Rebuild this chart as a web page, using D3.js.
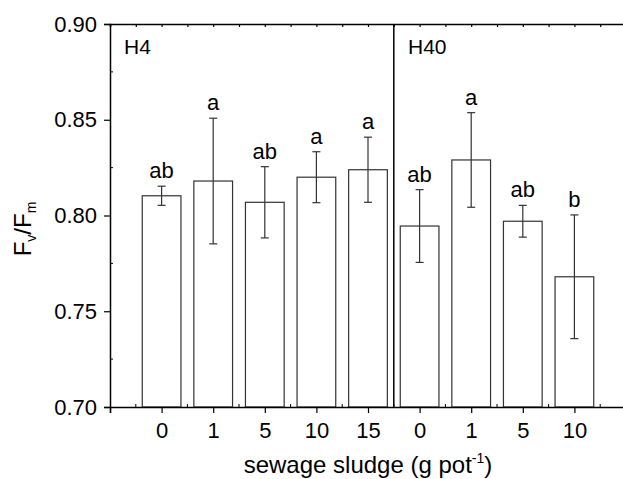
<!DOCTYPE html>
<html>
<head>
<meta charset="utf-8">
<script src="https://cdn.jsdelivr.net/npm/d3@7"></script>
<style>
  body { margin: 0; background: #fff; }
  text { font-family: "Liberation Sans", Arial, sans-serif; fill: #000; }
</style>
</head>
<body>
<div id="chart"></div>
<script>
// sludge dose labels, two groups of soil
const doseLabels = ['0', '1', '5', '10', '15', '0', '1', '5', '10'];
const means = [0.8103, 0.818, 0.8069, 0.820, 0.8239, 0.7945, 0.829, 0.797, 0.768];
const errors = [0.005, 0.0328, 0.0186, 0.0133, 0.017, 0.019, 0.0247, 0.0083, 0.0323];
const letters = ['ab', 'a', 'ab', 'a', 'a', 'ab', 'a', 'ab', 'b'];
const groups = ['H4', 'H40'];
const yTicks = [0.70, 0.75, 0.80, 0.85, 0.90];

const totalWidth = 623
const totalHeight = 479

const svg = d3.select('#chart')
    .append('svg')
    .attr('width', totalWidth)
    .attr('height', totalHeight);

// positions: slot 0 is empty, bars sit at slots 1..9
const xScale = d3.scaleLinear()
    .domain([0, 10])
    .range([110, 626]);

const yScale = d3.scaleLinear()
    .domain([0.70, 0.90])
    .range([407, 24]);

const barWidth = (xScale(1) - xScale(0)) * 0.75;
const capWidth = 8;

// bars
svg.selectAll('rect.bar')
    .data(means)
    .enter()
    .append('rect')
    .attr('class', 'bar')
    .attr('x', (d, i) => xScale(i + 1) - barWidth / 2)
    .attr('y', d => yScale(d))
    .attr('width', barWidth)
    .attr('height', d => yScale(0.70) - yScale(d))
    .attr('fill', '#fff')
    .attr('stroke', '#333')
    .attr('stroke-width', 1.2);

// error bars
const errG = svg.append('g')
    .attr('stroke', '#333')
    .attr('stroke-width', 1.2);

means.forEach((m, i) => {
    const cx = xScale(i + 1);
    const top = yScale(m + errors[i]);
    const bottom = yScale(m - errors[i]);
    errG.append('line').attr('x1', cx).attr('x2', cx).attr('y1', top).attr('y2', bottom);
    errG.append('line').attr('x1', cx - capWidth / 2).attr('x2', cx + capWidth / 2).attr('y1', top).attr('y2', top);
    errG.append('line').attr('x1', cx - capWidth / 2).attr('x2', cx + capWidth / 2).attr('y1', bottom).attr('y2', bottom);
});

// significance letters
svg.selectAll('text.letter')
    .data(letters)
    .enter()
    .append('text')
    .attr('class', 'letter')
    .attr('x', (d, i) => xScale(i + 1))
    .attr('y', (d, i) => yScale(means[i] + errors[i]) - 8)
    .attr('text-anchor', 'middle')
    .style('font-size', '22px')
    .text(d => d);

// divider between groups
svg.append('line')
    .attr('x1', xScale(5.5)).attr('x2', xScale(5.5))
    .attr('y1', yScale(0.90)).attr('y2', yScale(0.70))
    .attr('stroke', '#000')
    .attr('stroke-width', 1.5);

// group labels
svg.selectAll('text.group')
    .data(groups)
    .enter()
    .append('text')
    .attr('class', 'group')
    .attr('x', (d, i) => i === 0 ? 124 : 408)
    .attr('y', 54)
    .style('font-size', '21px')
    .text(d => d);

const halfSteps = d3.range(0, 10.5, 0.5);

// bottom axis
const xAxis = svg.append('g')
    .attr('transform', `translate(0, ${yScale(0.70)})`)
    .call(d3.axisBottom(xScale)
        .tickValues(d3.range(0, 11))
        .tickSize(6)
        .tickPadding(9)
        .tickFormat(d => (d >= 1 && d <= 9) ? doseLabels[d - 1] : ''));

xAxis.selectAll('g.tick')
    .filter(d => d > 9)
    .remove();

// minor ticks on bottom axis (inward)
svg.append('g')
    .selectAll('line')
    .data(halfSteps.filter(v => v % 1 !== 0))
    .enter()
    .append('line')
    .attr('x1', d => xScale(d)).attr('x2', d => xScale(d))
    .attr('y1', yScale(0.70)).attr('y2', yScale(0.70) - 3)
    .attr('stroke', '#000');

// top axis, minor ticks inward only
svg.append('g')
    .attr('transform', `translate(0, ${yScale(0.90)})`)
    .call(d3.axisTop(xScale)
        .tickValues(halfSteps)
        .tickSize(-3)
        .tickFormat(''));

// left axis
svg.append('g')
    .attr('transform', `translate(${xScale(0)}, 0)`)
    .call(d3.axisLeft(yScale)
        .tickValues(yTicks)
        .tickSize(6)
        .tickPadding(7)
        .tickFormat(d3.format('.2f')));

// minor ticks on left axis (inward)
svg.append('g')
    .selectAll('line')
    .data([0.725, 0.775, 0.825, 0.875])
    .enter()
    .append('line')
    .attr('x1', xScale(0)).attr('x2', xScale(0) + 3)
    .attr('y1', d => yScale(d)).attr('y2', d => yScale(d))
    .attr('stroke', '#000');

svg.selectAll('.domain')
    .attr('stroke', '#000')
    .attr('stroke-width', 1.5);

svg.selectAll('.tick line')
    .attr('stroke', '#000')
    .attr('stroke-width', 1.2);

svg.selectAll('.tick text')
    .style('font-size', '22px')
    .style('font-family', '"Liberation Sans", Arial, sans-serif')
    .attr('fill', '#000');

// axis titles
const xTitle = svg.append('text')
    .attr('x', 368)
    .attr('y', 473)
    .attr('text-anchor', 'middle')
    .style('font-size', '24px');
xTitle.append('tspan').text('sewage sludge (g pot');
xTitle.append('tspan').attr('dy', -10).style('font-size', '14px').text('-1');
xTitle.append('tspan').attr('dy', 10).text(')');

const yTitle = svg.append('text')
    .attr('transform', 'rotate(-90)')
    .attr('x', -229)
    .attr('y', 31)
    .attr('text-anchor', 'middle')
    .style('font-size', '24px');
yTitle.append('tspan').text('F');
yTitle.append('tspan').attr('dy', 5).style('font-size', '14px').text('v');
yTitle.append('tspan').attr('dy', -5).text('/F');
yTitle.append('tspan').attr('dy', 5).style('font-size', '14px').text('m');
</script>
</body>
</html>
